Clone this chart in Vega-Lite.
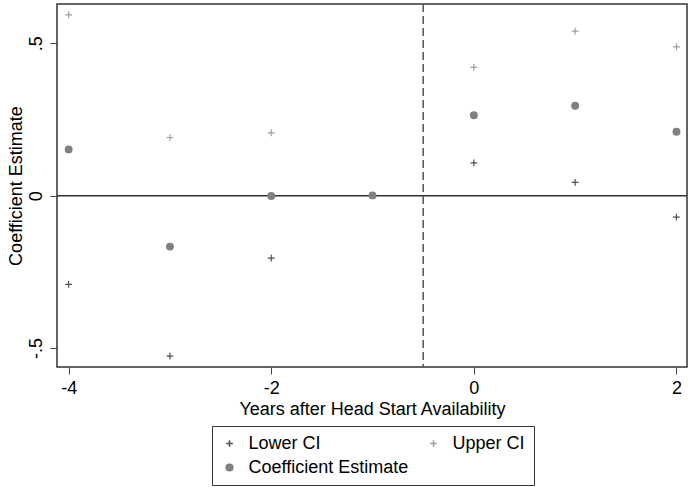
{
  "$schema": "https://vega.github.io/schema/vega-lite/v6.json",
  "width": 630,
  "height": 363,
  "autosize": {"type": "none"},
  "padding": {"left": 57, "top": 4, "right": 3, "bottom": 120},
  "background": "white",
  "config": {
    "font": "Liberation Sans",
    "view": {"stroke": "#333333", "strokeWidth": 1.5},
    "axis": {
      "domain": false,
      "grid": false,
      "tickColor": "#444444",
      "tickSize": 7,
      "tickWidth": 1,
      "labelFont": "Liberation Sans",
      "labelFontSize": 18,
      "labelColor": "black",
      "titleFont": "Liberation Sans",
      "titleFontSize": 18,
      "titleFontWeight": "normal",
      "titleColor": "black"
    },
    "legend": {
      "labelFont": "Liberation Sans",
      "labelFontSize": 18,
      "labelColor": "black"
    }
  },
  "data": {
    "values": [
      {"x": -4, "series": "Coefficient Estimate", "value": 0.152},
      {"x": -4, "series": "Upper CI", "value": 0.593},
      {"x": -4, "series": "Lower CI", "value": -0.291},
      {"x": -3, "series": "Coefficient Estimate", "value": -0.167},
      {"x": -3, "series": "Upper CI", "value": 0.191},
      {"x": -3, "series": "Lower CI", "value": -0.526},
      {"x": -2, "series": "Coefficient Estimate", "value": -0.001},
      {"x": -2, "series": "Upper CI", "value": 0.206},
      {"x": -2, "series": "Lower CI", "value": -0.205},
      {"x": -1, "series": "Coefficient Estimate", "value": 0.001},
      {"x": 0, "series": "Coefficient Estimate", "value": 0.264},
      {"x": 0, "series": "Upper CI", "value": 0.421},
      {"x": 0, "series": "Lower CI", "value": 0.108},
      {"x": 1, "series": "Coefficient Estimate", "value": 0.295},
      {"x": 1, "series": "Upper CI", "value": 0.540},
      {"x": 1, "series": "Lower CI", "value": 0.044},
      {"x": 2, "series": "Coefficient Estimate", "value": 0.210},
      {"x": 2, "series": "Upper CI", "value": 0.488},
      {"x": 2, "series": "Lower CI", "value": -0.070}
    ]
  },
  "layer": [
    {
      "data": {"values": [{"y": 0}]},
      "mark": {"type": "rule", "color": "#333333", "strokeWidth": 1.5},
      "encoding": {"y": {"field": "y", "type": "quantitative"}}
    },
    {
      "data": {"values": [{"x": -0.5}]},
      "mark": {"type": "rule", "color": "#555555", "strokeWidth": 1.5, "strokeDash": [8, 4]},
      "encoding": {"x": {"field": "x", "type": "quantitative"}}
    },
    {
      "mark": {"type": "point", "size": 45, "strokeWidth": 1.2, "opacity": 1},
      "encoding": {
        "x": {
          "field": "x",
          "type": "quantitative",
          "scale": {"domain": [-4.115, 2.104], "nice": false, "zero": false},
          "axis": {"values": [-4, -2, 0, 2], "labelExpr": "'' + datum.value", "title": "Years after Head Start Availability", "labelPadding": 5, "titlePadding": 3}
        },
        "y": {
          "field": "value",
          "type": "quantitative",
          "scale": {"domain": [-0.562, 0.629], "nice": false, "zero": false},
          "axis": {
            "values": [-0.5, 0, 0.5],
            "title": "Coefficient Estimate",
            "labelAngle": -90,
            "labelAlign": "center",
            "labelBaseline": "bottom",
            "labelPadding": 5,
            "titlePadding": 2,
            "labelExpr": "datum.value == 0 ? '0' : replace('' + datum.value, '0.', '.')"
          }
        },
        "shape": {
          "field": "series",
          "type": "nominal",
          "scale": {"domain": ["Lower CI", "Coefficient Estimate", "Upper CI"], "range": ["M-1,0H1M0,-1V1", "circle", "M-1,0H1M0,-1V1"]},
          "legend": {
            "title": null,
            "orient": "none",
            "legendX": 155,
            "legendY": 422,
            "columns": 2,
            "columnPadding": 16,
            "rowPadding": 6,
            "padding": 8.5,
            "strokeColor": "#333333",
            "fillColor": "white",
            "symbolSize": 45,
            "labelOffset": 10
          }
        },
        "fill": {
          "field": "series",
          "type": "nominal",
          "scale": {"domain": ["Lower CI", "Coefficient Estimate", "Upper CI"], "range": ["transparent", "#808080", "transparent"]},
          "legend": null
        },
        "stroke": {
          "field": "series",
          "type": "nominal",
          "scale": {"domain": ["Lower CI", "Coefficient Estimate", "Upper CI"], "range": ["#505050", "#808080", "#a0a0a0"]},
          "legend": null
        }
      }
    }
  ]
}
